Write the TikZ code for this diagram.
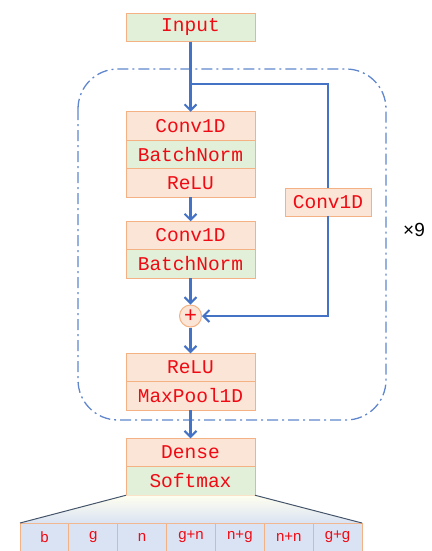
\documentclass[tikz,border=0pt]{standalone}
\usepackage{fontspec}
\setmonofont{Liberation Mono}
\setsansfont{Liberation Sans}
\usetikzlibrary{positioning,arrows.meta,shadings}
\definecolor{peach}{HTML}{FBE5D6}
\definecolor{mint}{HTML}{E2F0D9}
\definecolor{rim}{HTML}{F4B183}
\definecolor{flowblue}{HTML}{4472C4}
\definecolor{lbl}{HTML}{F00A14}
\definecolor{cellblue}{HTML}{DAE3F3}
\definecolor{slate}{HTML}{44546A}
\begin{document}
\begin{tikzpicture}[
			x=1pt,y=-1pt,
			layer/.style={draw=rim,fill=peach,text=lbl,line width=1pt,inner sep=0pt,outer sep=0pt,
					minimum width=129pt,minimum height=28.5pt,font=\ttfamily\fontsize{19.5}{19.5}\selectfont},
			normlayer/.style={layer,fill=mint},
			cell/.style={draw=rim,fill=cellblue,text=lbl,line width=1pt,inner sep=0pt,outer sep=0pt,
					minimum width=48.86pt,minimum height=28pt,font=\sffamily\fontsize{15}{15}\selectfont},
			flow/.style={flowblue,line width=2.2pt,-{Straight Barb[length=6pt,width=12pt,line width=2pt]}},
			wire/.style={flowblue,line width=2.2pt}
		]
		\useasboundingbox (0,0) rectangle (431,551);
		\draw[flowblue!85,line width=1.3pt,dash pattern=on 11pt off 4pt on 2pt off 4pt,rounded corners=40pt]
		(78,69) rectangle (386,420);
		\node[normlayer] (input) at (190.5,27.5) {Input};
		\node[layer] (conv1) at (190.5,126) {Conv1D};
		\node[normlayer,below=0pt of conv1] (bn1) {BatchNorm};
		\node[layer,below=0pt of bn1] (relu1) {ReLU};
		\node[layer] (conv2) at (190.5,235.5) {Conv1D};
		\node[normlayer,below=0pt of conv2] (bn2) {BatchNorm};
		\node[circle,draw=rim,fill=peach,text=lbl,line width=1pt,minimum size=22pt,inner sep=0pt,
			font=\sffamily\fontsize{22}{22}\selectfont] (plus) at (190.5,316) {+};
		\node[layer] (relu2) at (190.5,367.5) {ReLU};
		\node[layer,below=0pt of relu2] (pool) {MaxPool1D};
		\node[layer] (dense) at (190.5,452.5) {Dense};
		\node[normlayer,below=0pt of dense] (softmax) {Softmax};
		\node[layer,minimum width=86pt,minimum height=28pt] (skipconv) at (328,202) {Conv1D};
		\node[font=\sffamily\fontsize{19}{19}\selectfont] (times) at (414,230) {×9};
		\foreach \cls [count=\i] in {b,g,n,g+n,n+g,n+n,g+g}
		\node[cell] (cell\i) at ({20+48.86*(\i-0.5)},537) {\cls};
		\shade[top color=yellow!6,bottom color=cellblue] (softmax.south west) -- (softmax.south east)
		-- (cell7.north east) -- (cell1.north west) -- cycle;
		\draw[slate,line width=1pt] (softmax.south west) -- (cell1.north west)
		(softmax.south east) -- (cell7.north east);
		\coordinate (split) at (190.5,84);
		\draw[flow] (input) -- (conv1);
		\draw[wire] (split) -| (skipconv.north);
		\draw[flow] (skipconv.south) |- (plus.east);
		\draw[flow] (relu1) -- (conv2);
		\draw[flow] (bn2) -- (plus);
		\draw[flow] (plus) -- (relu2);
		\draw[flow] (pool) -- (dense);
	\end{tikzpicture}
\end{document}
